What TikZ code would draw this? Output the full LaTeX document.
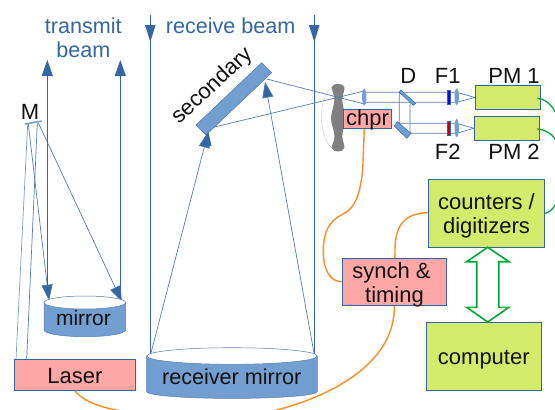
\documentclass[tikz,border=0pt]{standalone}
\usepackage{fontspec}
\setmainfont{Liberation Sans}
\usetikzlibrary{arrows.meta,calc}
\definecolor{bl}{HTML}{3465A4}
\definecolor{lb}{HTML}{729FCF}
\definecolor{pk}{HTML}{FFA6A6}
\definecolor{yg}{HTML}{D4EA6B}
\definecolor{gn}{HTML}{00A933}
\definecolor{og}{HTML}{FF8A1E}
\definecolor{tx}{HTML}{111111}
\newcommand\basedat[2]{\raisebox{#1}[0pt][0pt]{#2}}
\newcommand\twolines[3]{\raisebox{#1}[0pt][0pt]{\parbox[t]{100pt}{\centering #2\\#3}}}
\tikzset{
  txt/.style={inner sep=0pt,font=\fontsize{22}{24}\selectfont,text=tx,align=center},
  btxt/.style={txt,text=bl,font=\fontsize{21.6}{24}\selectfont},
  ybox/.style={draw=bl,line width=0.9pt,fill=yg,inner sep=0pt,font=\fontsize{22}{24}\selectfont,text=tx},
  pbox/.style={draw=bl,line width=0.9pt,fill=pk,inner sep=0pt,font=\fontsize{22}{24}\selectfont,text=tx},
  beam/.style={draw=bl,line width=1pt},
  beamhead/.style={beam,-{Triangle[length=16pt,width=11pt,fill=bl]}},
  ray/.style={draw=bl!85!white,line width=0.7pt},
  rayhead/.style={ray,-{Triangle[length=16pt,width=11pt,fill=bl]}},
  opt/.style={fill=lb,draw=lb!85!white,line width=0.4pt},
  cyl/.style={fill=lb,draw=bl!85!white,line width=0.5pt},
  cyltop/.style={fill=white,draw=bl!85!white,line width=0.5pt},
  wire/.style={draw=og,line width=1.4pt},
  gwire/.style={draw=gn,line width=1.3pt},
}
\begin{document}
\begin{tikzpicture}[x=1pt,y=-1pt]
\clip (0,0) rectangle (555,410);
% named end points
\coordinate (t1a) at (47.3,286); \coordinate (t1b) at (47.3,60);
\coordinate (t2a) at (120.3,302); \coordinate (t2b) at (120.3,60);
\coordinate (r1a) at (150.3,15); \coordinate (r1c) at (150.3,358);
\coordinate (r2a) at (314.3,15); \coordinate (r2c) at (314.3,355);
\coordinate (m1) at (27.7,124); \coordinate (m2) at (37.3,123.2); \coordinate (m3) at (28.3,124); \coordinate (m4) at (38.3,122.8);
\coordinate (l1) at (16,359.3); \coordinate (l2) at (26.7,359.3);
\coordinate (s1) at (49,300.7); \coordinate (s2) at (122,302);
\coordinate (g1) at (151,353); \coordinate (g2) at (314,353);
\coordinate (h1) at (208.3,131.7); \coordinate (h2) at (265,81.7);
\coordinate (c1) at (266.7,79); \coordinate (c2) at (213.3,127.3);
\coordinate (le1) at (364.3,104); \coordinate (le2) at (364.3,91);
% orange wires
\node[pbox,minimum width=121.4pt,minimum height=31pt] (laser) at (75,374.8) {\basedat{-8.5pt}{Laser}};
\draw[wire] (laser.south) .. controls (85,404) and (110,410) .. (135,413) .. controls (180,418) and (240,420) .. (277,410) .. controls (330,396) and (392,365) .. (394.3,310) -- (395,250) .. controls (395,225) and (405,213) .. (428.3,212.7);
\draw[wire] (364.3,128.3) -- (362.7,170) .. controls (360,195) and (355,207) .. (345,213) .. controls (335,218) and (323,225) .. (323.3,251.7) .. controls (323.5,270) and (330,282) .. (342.3,281.7);
% boxes
\node[pbox,minimum width=104.4pt,minimum height=47pt] (synch) at (394.5,281.8) {\twolines{3.5pt}{synch \&\kern6pt}{timing}};
\node[ybox,minimum width=116.4pt,minimum height=68pt] (counters) at (486.5,213.3) {\twolines{4pt}{counters /}{digitizers}};
\node[ybox,minimum width=115pt,minimum height=68pt] (computer) at (483.8,356.3) {\basedat{-8pt}{computer}};
\node[ybox,minimum width=65.4pt,minimum height=23.6pt] (pm1) at (508,97.5) {};
\node[ybox,minimum width=65.4pt,minimum height=24pt] (pm2) at (507,128.3) {};
% green wires
\draw[gwire] (537.3,98.3) .. controls (545,99) and (551,104) .. (556,113);
\draw[gwire] (537.3,129) .. controls (545,129.5) and (551,133) .. (556,140);
\draw[gwire] (counters.east) .. controls (549,212.7) and (552,210) .. (556,204);
% double arrow
\draw[draw=gn,line width=1.6pt,fill=white,line join=miter] (487.7,247.3) -- (509,261.7) -- (498.7,261.7) -- (498.7,307.3) -- (509,307.3) -- (487.7,322) -- (466.7,307.3) -- (476.7,307.3) -- (476.7,261.7) -- (466.7,261.7) -- cycle;
% transmit side
\draw[ray,draw=lb] (l1) -- (m1);
\draw[ray] (l2) -- (m2);
\draw[rayhead] (m3) -- (s1);
\draw[rayhead] (m4) -- (s2);
\draw[beamhead] (t1a) -- (t1b);
\draw[beamhead] (t2a) -- (t2b);
\draw[line width=1.6pt,draw=lb] (25,124) -- (41.7,121);
% receive beams
\draw[beam] (r1a) -- (r1c);
\draw[beam] (r2a) -- (r2c);
\fill[bl] (145,25) -- (155.6,25) -- (150.3,42) -- cycle;
\fill[bl] (309,25) -- (319.6,25) -- (314.3,42) -- cycle;
% cylinders
\draw[cyl] (44,302.5) -- (44,330) arc[start angle=180,end angle=360,x radius=40.85pt,y radius=6.7pt] -- (125.7,302.5) -- cycle;
\draw[cyltop] (84.85,302.5) ellipse[x radius=40.85pt,y radius=6.5pt];
\node[txt,font=\fontsize{21}{23}\selectfont] (mirrorlabel) at (83.5,318) {mirror};
\draw[cyl] (146.7,356) -- (146.7,391.7) arc[start angle=180,end angle=360,x radius=85.3pt,y radius=6.7pt] -- (317.3,356) -- cycle;
\draw[cyltop] (232,356) ellipse[x radius=85.3pt,y radius=8.3pt];
\node[txt,font=\fontsize{21.6}{24}\selectfont] (rmlabel) at (231.7,376.7) {receiver mirror};
% receiver rays
\draw[rayhead] (g1) -- (h1);
\draw[rayhead] (g2) -- (h2);
% secondary
\draw[cyl,fill=lb] (261.7,62.7) -- (271.7,72.7) -- (206,135) -- (196,125) -- cycle;
\fill[bl] (200.5,145.5) -- (211.5,146) -- (208.3,131.7) -- cycle;
\node[txt,rotate=43] (seclabel) at (212.5,86) {secondary};
% chopper
\draw[draw=black!18,line width=0.5pt] (338,84) .. controls (316,88) and (316,146) .. (338,151);
\fill[black!50] plot[smooth cycle,tension=0.6] coordinates {(331.8,87) (338,84) (344.4,87) (342.3,100) (345,118) (342.3,136) (344.4,148) (338,151.5) (331.8,148) (334.5,136) (331,118) (334.5,100)};
\draw[ray] (c1) -- (le1);
\draw[ray] (c2) -- (le2);
\node[pbox,minimum width=48.4pt,minimum height=19.3pt] (chpr) at (367.5,118.7) {\basedat{-7pt}{chpr}};
% beam paths
\draw[ray] (364.3,92.3) -- (456.7,92.3) -- (pm1.west);
\draw[ray] (364.3,102.3) -- (456.7,102.3) -- (pm1.west);
\draw[ray] (399.3,92.3) -- (399.3,123.3) -- (456.7,123.3) -- (pm2.west);
\draw[ray] (410,103.3) -- (410,133.3) -- (456.7,133.3) -- (pm2.west);
% optics
\fill[lb] (364.3,97.2) ellipse[x radius=2.2pt,y radius=8.3pt];
\fill[lb] (456.7,96.7) ellipse[x radius=2.2pt,y radius=8.3pt];
\fill[lb] (456.7,128) ellipse[x radius=2.2pt,y radius=9pt];
\draw[opt,draw=bl,line width=0.5pt] (400.7,90) -- (415.7,103.3) -- (413.3,105.3) -- (399.3,92.3) -- cycle;
\draw[opt,draw=bl,line width=0.5pt] (397.3,121.7) -- (411,133.3) -- (406.7,138.3) -- (394.3,126) -- cycle;
\filldraw[fill=blue,draw=bl,line width=0.5pt] (446.8,90) rectangle (449.8,104.3);
\filldraw[fill=red!80!black,draw=bl,line width=0.5pt] (446.8,121) rectangle (449.8,135.7);
% labels
\node[btxt] (transmit) at (83.3,38) {transmit\\beam};
\node[btxt] (receive) at (230.7,26) {receive beam};
\node[txt] (Mlabel) at (30,111.7) {M};
\node[txt] (D) at (408.3,75.7) {D};
\node[txt] (F1) at (447.7,75.7) {F1};
\node[txt] (PM1) at (514,75.7) {PM 1};
\node[txt] (F2) at (447.7,152.3) {F2};
\node[txt] (PM2) at (514,152.3) {PM 2};
\end{tikzpicture}
\end{document}
